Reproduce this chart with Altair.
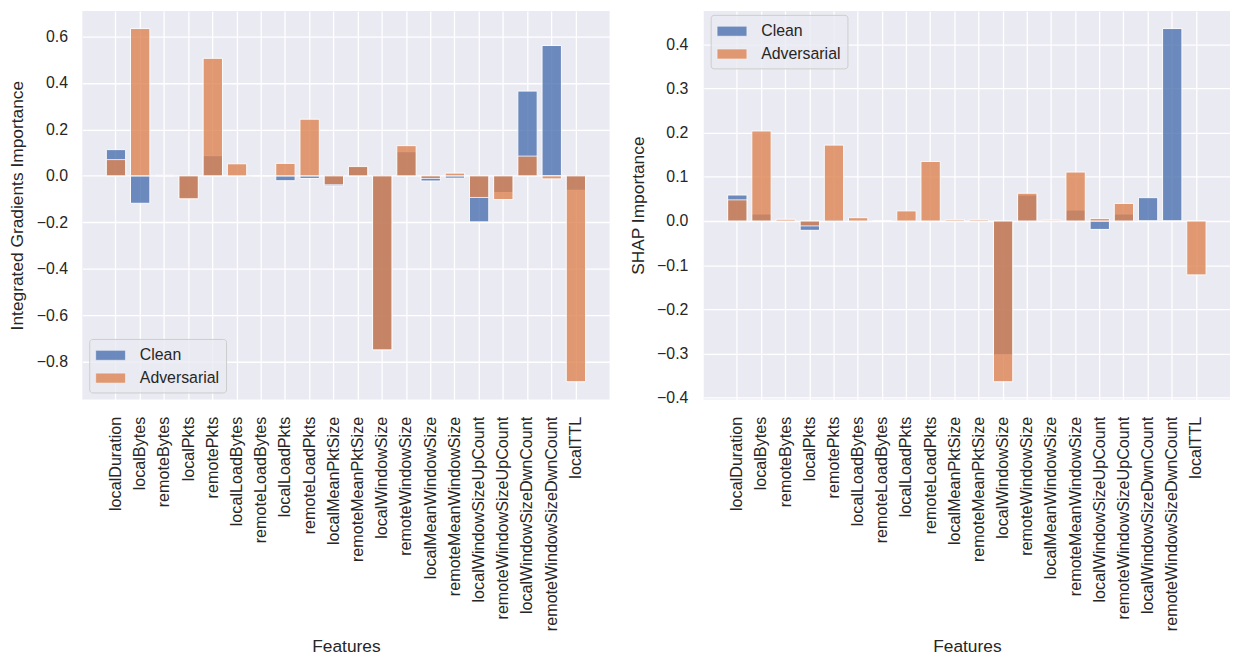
import altair as alt
import pandas as pd

features = [
    "localDuration", "localBytes", "remoteBytes", "localPkts", "remotePkts",
    "localLoadBytes", "remoteLoadBytes", "localLoadPkts", "remoteLoadPkts",
    "localMeanPktSize", "remoteMeanPktSize", "localWindowSize", "remoteWindowSize",
    "localMeanWindowSize", "remoteMeanWindowSize", "localWindowSizeUpCount",
    "remoteWindowSizeUpCount", "localWindowSizeDwnCount", "remoteWindowSizeDwnCount",
    "localTTL",
]
series = ["Clean", "Adversarial"]
colors = ["#4C72B0", "#DD8452"]

ig_clean = [0.113, -0.118, 0.003, -0.097, 0.087, 0.0, 0.001, -0.021, -0.011, -0.043,
            0.039, -0.748, 0.104, -0.022, -0.010, -0.198, -0.072, 0.365, 0.561, -0.062]
ig_adv = [0.070, 0.634, 0.002, -0.099, 0.506, 0.052, 0.001, 0.054, 0.244, -0.038,
          0.041, -0.749, 0.130, -0.011, 0.012, -0.093, -0.102, 0.085, -0.013, -0.886]

shap_clean = [0.059, 0.016, 0.0, -0.021, 0.003, 0.0, 0.0, 0.0, 0.0, 0.001,
              0.001, -0.303, 0.059, 0.002, 0.025, -0.019, 0.016, 0.053, 0.436, 0.0]
shap_adv = [0.048, 0.204, 0.004, -0.011, 0.172, 0.0075, 0.0, 0.023, 0.135, 0.003,
            0.003, -0.364, 0.063, 0.002, 0.111, 0.006, 0.040, 0.0, 0.0, -0.122]

ig_ticks = [-0.8, -0.6, -0.4, -0.2, 0.0, 0.2, 0.4, 0.6]
shap_ticks = [-0.4, -0.3, -0.2, -0.1, 0.0, 0.1, 0.2, 0.3, 0.4]

FONT = "Liberation Sans, Arial, sans-serif"
TEXT = "#262626"


def long_df(clean, adv):
    rows = []
    for name, vals in ((series[0], clean), (series[1], adv)):
        for f, v in zip(features, vals):
            rows.append({"Feature": f, "Type": name, "Value": v})
    return pd.DataFrame(rows)


def panel(df, ytitle, domain, ticks, legend_pos, width, lab_pad, title_pad):
    legend = alt.Legend(
        title=None, **legend_pos,
        symbolType="M-1,-0.5L2,-0.5L2,0.5L-1,0.5Z", symbolSize=400,
        symbolOpacity=0.8, symbolStrokeColor="white", symbolStrokeWidth=0.5,
        labelFontSize=16, labelFont=FONT, labelColor=TEXT, labelOffset=24,
        padding=6, rowPadding=4,
        fillColor="rgba(234,234,242,0.8)", strokeColor="#cccccc", cornerRadius=3,
    )
    return alt.Chart(df).mark_bar(opacity=0.8, stroke="white", strokeWidth=1).encode(
        x=alt.X("Feature:N", sort=features, title="Features",
                scale=alt.Scale(paddingInner=0.2, paddingOuter=0.99),
                axis=alt.Axis(labelAngle=-90, grid=True, bandPosition=0.5,
                              labelPadding=17, titlePadding=40, labelLimit=0,
                              labelFontSize=16.3)),
        y=alt.Y("Value:Q", title=ytitle, stack=None,
                scale=alt.Scale(domain=domain, nice=False, zero=False),
                axis=alt.Axis(values=ticks, format=".1f", labelPadding=lab_pad,
                              titlePadding=title_pad)),
        color=alt.Color("Type:N", scale=alt.Scale(domain=series, range=colors), legend=legend),
    ).properties(width=width, height=392)


left = panel(long_df(ig_clean, ig_adv), "Integrated Gradients Importance",
             [-0.962, 0.710], ig_ticks, {"orient": "bottom-left", "offset": 7},
             532, 15, 10)
right = panel(long_df(shap_clean, shap_adv), "SHAP Importance",
              [-0.404, 0.476], shap_ticks,
              {"orient": "none", "legendX": 7, "legendY": 4}, 531, 16, 9)

chart = alt.hconcat(left, right, spacing=20).resolve_scale(
    y="independent", color="independent"
).resolve_legend(color="independent").configure(
    padding={"left": 0, "top": 0, "right": 0, "bottom": 0}
).configure_view(
    fill="#EAEAF2", stroke=None
).configure_axis(
    domain=False, ticks=False, tickSize=0, grid=True, gridColor="white", gridWidth=1.3,
    labelFont=FONT, labelFontSize=16, labelColor=TEXT,
    titleFont=FONT, titleFontSize=17.5, titleFontWeight="normal", titleColor=TEXT,
)

chart.save("out.html", embed_options={"renderer": "svg", "actions": False})
